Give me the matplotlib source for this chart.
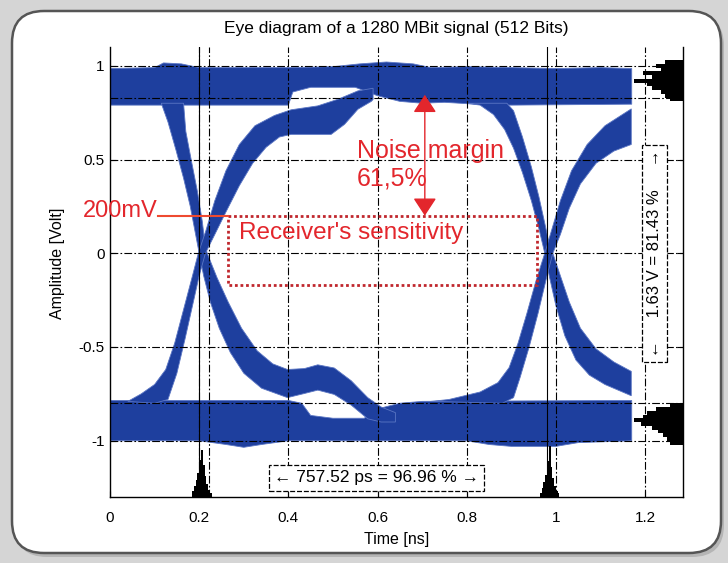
import matplotlib
matplotlib.use("Agg")
import matplotlib.pyplot as plt
from matplotlib.patches import FancyBboxPatch, ArrowStyle

plt.rcParams['font.family'] = ['Liberation Sans', 'DejaVu Sans']

# ---- eye diagram outlines: (time ns, amplitude V) ----
top_rail_hi = [(0.0, 0.985), (0.10, 0.99), (0.12, 1.015), (0.16, 1.01), (0.2, 0.99), (0.3, 0.99),
               (0.4, 0.99), (0.5, 0.995), (0.56, 1.01), (0.62, 1.02), (0.68, 1.01), (0.72, 0.99),
               (0.8, 0.995), (0.9, 0.99), (1.0, 0.985), (1.1, 0.99), (1.17, 0.985)]
top_rail_lo = [(0.0, 0.79), (0.40, 0.79), (0.41, 0.86), (0.45, 0.885), (0.55, 0.885), (0.60, 0.84),
               (0.65, 0.81), (0.70, 0.80), (0.75, 0.805), (0.82, 0.795), (0.9, 0.79), (1.17, 0.795)]

bot_rail_hi = [(0.0, -0.785), (0.40, -0.785), (0.43, -0.80), (0.45, -0.865), (0.50, -0.88),
               (0.57, -0.88), (0.60, -0.83), (0.65, -0.80), (0.70, -0.79), (1.17, -0.785)]
bot_rail_lo = [(0.0, -1.0), (0.2, -1.0), (0.26, -1.02), (0.30, -1.035), (0.34, -1.02), (0.40, -1.0),
               (0.8, -1.0), (0.85, -1.02), (0.9, -1.03), (1.0, -1.03), (1.05, -1.01), (1.17, -1.0)]

# falling edge, left crossing
fall1_a = [(0.115, 0.80), (0.13, 0.70), (0.148, 0.55), (0.165, 0.40), (0.18, 0.25), (0.192, 0.10),
           (0.200, 0.0), (0.21, -0.12), (0.225, -0.26), (0.245, -0.40), (0.27, -0.53),
           (0.30, -0.64), (0.34, -0.72), (0.398, -0.77), (0.436, -0.748), (0.466, -0.73),
           (0.503, -0.753), (0.541, -0.81), (0.578, -0.883), (0.608, -0.90), (0.64, -0.90)]
fall1_b = [(0.165, 0.80), (0.17, 0.65), (0.182, 0.50), (0.196, 0.33), (0.207, 0.17),
           (0.213, 0.05), (0.218, 0.0), (0.24, -0.13), (0.265, -0.26), (0.295, -0.40),
           (0.33, -0.52), (0.365, -0.59), (0.398, -0.62), (0.436, -0.615), (0.466, -0.595),
           (0.503, -0.612), (0.541, -0.68), (0.578, -0.77), (0.608, -0.82), (0.64, -0.85)]

# rising edge, left crossing
rise1_a = [(0.04, -0.79), (0.07, -0.75), (0.10, -0.70), (0.125, -0.62), (0.145, -0.48),
           (0.165, -0.30), (0.185, -0.12), (0.198, 0.0), (0.215, 0.12), (0.235, 0.28),
           (0.26, 0.44), (0.29, 0.58), (0.325, 0.68), (0.369, 0.735), (0.406, 0.765),
           (0.466, 0.786), (0.511, 0.821), (0.556, 0.866), (0.59, 0.88)]
rise1_b = [(0.10, -0.80), (0.13, -0.78), (0.15, -0.64), (0.168, -0.46), (0.185, -0.28),
           (0.200, -0.12), (0.214, 0.0), (0.235, 0.10), (0.26, 0.22), (0.29, 0.36), (0.32, 0.48),
           (0.35, 0.565), (0.38, 0.62), (0.406, 0.634), (0.496, 0.634), (0.526, 0.6875),
           (0.556, 0.768), (0.586, 0.81), (0.59, 0.82)]

# falling edge, right crossing
fall2_a = [(0.80, 0.80), (0.83, 0.79), (0.86, 0.74), (0.885, 0.66), (0.905, 0.56), (0.925, 0.43),
           (0.945, 0.28), (0.962, 0.13), (0.975, 0.0), (0.985, -0.12), (1.0, -0.28), (1.02, -0.44),
           (1.045, -0.57), (1.075, -0.65), (1.11, -0.70), (1.169, -0.76)]
fall2_b = [(0.89, 0.80), (0.905, 0.76), (0.925, 0.62), (0.945, 0.46), (0.962, 0.30),
           (0.975, 0.16), (0.985, 0.05), (0.993, 0.0), (1.01, -0.12), (1.03, -0.26),
           (1.055, -0.40), (1.09, -0.51), (1.13, -0.58), (1.169, -0.63)]

# rising edge, right crossing
rise2_a = [(0.72, -0.79), (0.76, -0.78), (0.83, -0.74), (0.87, -0.69), (0.895, -0.61),
           (0.915, -0.48), (0.935, -0.32), (0.955, -0.15), (0.975, 0.0), (0.99, 0.12),
           (1.01, 0.28), (1.035, 0.44), (1.07, 0.58), (1.11, 0.68), (1.169, 0.77)]
rise2_b = [(0.88, -0.80), (0.905, -0.77), (0.92, -0.66), (0.94, -0.50), (0.96, -0.32),
           (0.978, -0.14), (0.993, 0.0), (1.01, 0.10), (1.03, 0.24), (1.055, 0.37),
           (1.09, 0.48), (1.13, 0.545), (1.169, 0.58)]

# amplitude histograms on the right (level V, bar length ns)
hist_top_level = [1.02, 1.00, 0.98, 0.96, 0.94, 0.92, 0.90, 0.88, 0.86, 0.84, 0.82]
hist_top_len = [0.04, 0.06, 0.05, 0.09, 0.07, 0.11, 0.08, 0.07, 0.05, 0.04, 0.03]
hist_bot_level = [-0.81, -0.83, -0.85, -0.87, -0.89, -0.91, -0.93, -0.95, -0.97, -0.99, -1.01]
hist_bot_len = [0.03, 0.06, 0.08, 0.09, 0.11, 0.095, 0.07, 0.055, 0.045, 0.035, 0.03]

# jitter histograms at the bottom (time ns, height V)
jit1_t = [0.186, 0.190, 0.194, 0.198, 0.202, 0.206, 0.210, 0.214, 0.218, 0.222, 0.226]
jit1_h = [0.03, 0.06, 0.09, 0.13, 0.20, 0.25, 0.17, 0.11, 0.07, 0.04, 0.02]
jit2_t = [0.966, 0.970, 0.974, 0.978, 0.982, 0.986, 0.990, 0.994, 0.998, 1.002, 1.006]
jit2_h = [0.02, 0.05, 0.08, 0.12, 0.19, 0.27, 0.16, 0.10, 0.06, 0.03, 0.02]

eye_hi, eye_lo = 0.83, -0.80
t_left, t_right = 0.2225, 0.98
sens_top, sens_bot = 0.2, -0.17
sens_t0, sens_t1 = 0.265, 0.957
noise_t = 0.706

BLUE = '#1e3f9e'
RED = '#e3262c'
DKRED = '#c0272d'
XMAX, YMIN, YMAX = 1.285, -1.3, 1.1


def outline(edge_a, edge_b):
    pts = list(edge_a) + list(reversed(edge_b))
    return [p[0] for p in pts], [p[1] for p in pts]


fig = plt.figure(figsize=(7.28, 5.63), dpi=100)
fig.patch.set_facecolor('#d5d5d5')
shadow = FancyBboxPatch((0.15, 0.06), 7.09, 5.43, boxstyle='round,pad=0,rounding_size=0.32',
                        transform=fig.dpi_scale_trans, fc='#b5b5b5', ec='none', zorder=-3)
panel = FancyBboxPatch((0.12, 0.10), 7.09, 5.42, boxstyle='round,pad=0,rounding_size=0.32',
                       transform=fig.dpi_scale_trans, fc='white', ec='#555555', lw=1.8, zorder=-2)
fig.add_artist(shadow)
fig.add_artist(panel)

ax = fig.add_axes([110 / 728, 1 - 497 / 563, 573 / 728, 450 / 563])
ax.set_facecolor('white')

for a, b in [(top_rail_hi, top_rail_lo), (bot_rail_hi, bot_rail_lo),
             (fall1_a, fall1_b), (rise1_a, rise1_b), (fall2_a, fall2_b), (rise2_a, rise2_b)]:
    xs, ys = outline(a, b)
    ax.fill(xs, ys, color=BLUE, ec='#5b76c4', lw=0.6, zorder=1)

# histograms
ax.barh(hist_top_level, hist_top_len, height=0.02, left=[XMAX - v for v in hist_top_len],
        color='black', zorder=1.5)
ax.barh(hist_bot_level, hist_bot_len, height=0.02, left=[XMAX - v for v in hist_bot_len],
        color='black', zorder=1.5)
ax.bar(jit1_t, jit1_h, width=0.004, bottom=YMIN, color='black', zorder=1.5)
ax.bar(jit2_t, jit2_h, width=0.004, bottom=YMIN, color='black', zorder=1.5)

# grid and measurement lines
dashdot = (0, (7, 2, 1.5, 2))
for x in [0.2, 0.4, 0.6, 0.8, 1.0, 1.2]:
    ax.axvline(x, color='black', lw=0.8, ls=dashdot, zorder=2)
for y in [-1, -0.5, 0, 0.5, 1]:
    ax.axhline(y, color='black', lw=0.8, ls=dashdot, zorder=2)
ax.axvline(0.2, color='black', lw=0.8, zorder=2)
ax.axvline(t_right, color='black', lw=0.8, zorder=2)
ax.axvline(t_left, color='black', lw=0.8, ls=dashdot, zorder=2)
ax.axhline(eye_hi, color='black', lw=0.8, ls=dashdot, zorder=2)
ax.axhline(eye_lo, color='black', lw=0.8, ls=dashdot, zorder=2)

# receiver's sensitivity window
ax.plot([sens_t0, sens_t1, sens_t1, sens_t0, sens_t0],
        [sens_top, sens_top, sens_bot, sens_bot, sens_top],
        color=DKRED, lw=2, ls=(0, (1, 1)), zorder=4)
ax.plot([0.108, sens_t0], [sens_top, sens_top], color='#ee4a30', lw=1.5, zorder=4, clip_on=False)
ax.text(0.106, 0.225, '200mV', color=RED, fontsize=17, ha='right', va='center', zorder=5)
ax.text(0.29, 0.107, "Receiver's sensitivity", color=RED, fontsize=17.5, ha='left', va='center',
        zorder=5)

# noise margin
ax.annotate('', xy=(noise_t, eye_hi + 0.015), xytext=(noise_t, sens_top),
            arrowprops=dict(arrowstyle=ArrowStyle('<|-|>', head_length=0.55, head_width=0.36),
                            color=RED, lw=1, mutation_scale=20, shrinkA=0, shrinkB=0), zorder=5)
ax.text(0.553, 0.545, 'Noise margin', color=RED, fontsize=18, ha='left', va='center', zorder=5)
ax.text(0.553, 0.40, '61,5%', color=RED, fontsize=18, ha='left', va='center', zorder=5)

# measurement boxes
box = dict(boxstyle='square,pad=0.3', fc='white', ec='black', lw=0.9, ls=(0, (4, 1.5)))
ax.text(0.598, -1.198, '\u2190 757.52 ps = 96.96 % \u2192', fontsize=12.5, ha='center',
        va='center', bbox=box, zorder=6)
ax.text(1.222, 0.0, '\u2190     1.63 V = 81.43 %     \u2192', fontsize=12, rotation=90,
        ha='center', va='center', bbox=box, zorder=6)

ax.set_xlim(0, XMAX)
ax.set_ylim(YMIN, YMAX)
ax.set_xticks([0, 0.2, 0.4, 0.6, 0.8, 1.0, 1.2])
ax.set_xticklabels(['0', '0.2', '0.4', '0.6', '0.8', '1', '1.2'])
ax.set_yticks([-1, -0.5, 0, 0.5, 1])
ax.set_yticklabels(['-1', '-0.5', '0', '0.5', '1'])
ax.tick_params(direction='in', length=4, labelsize=11, right=True, top=False)
ax.tick_params(axis='x', pad=10)
ax.tick_params(axis='y', pad=4)
ax.spines['top'].set_visible(False)
for s in ['left', 'right', 'bottom']:
    ax.spines[s].set_linewidth(1.0)

ax.set_xlabel('Time [ns]', fontsize=11.5)
ax.xaxis.set_label_coords(0.5, -0.078)
ax.set_ylabel('Amplitude [Volt]', fontsize=11.5)
ax.yaxis.set_label_coords(-0.078, 0.52)
fig.text(396 / 728, 1 - 29 / 563, 'Eye diagram of a 1280 MBit signal (512 Bits)', fontsize=12.5,
         ha='center', va='center')

fig.savefig('out.png', dpi=100, facecolor=fig.get_facecolor())
